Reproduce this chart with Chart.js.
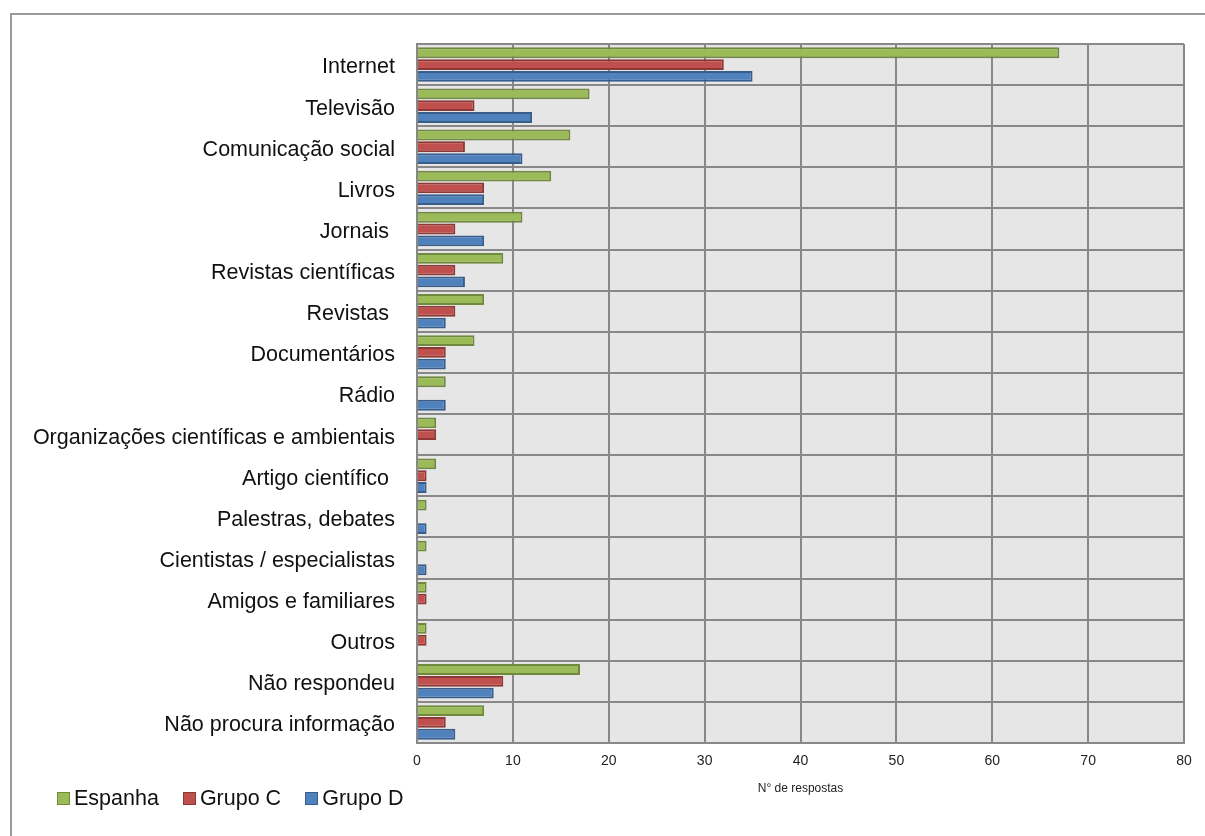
<!DOCTYPE html>
<html>
<head>
<meta charset="utf-8">
<script src="https://cdn.jsdelivr.net/npm/chart.js@4.4.1/dist/chart.umd.min.js"></script>
<style>
  html, body { margin: 0; padding: 0; background: #fff; overflow: hidden; }
  #wrap { position: relative; width: 1205px; height: 836px; }
  #frame { position: absolute; left: 10px; top: 13px; width: 1300px; height: 900px;
           border-top: 2px solid #9a9a9a; border-left: 2px solid #9a9a9a; }
  #chart { position: absolute; left: 0; top: 0; }
  #legend { position: absolute; left: 57px; top: 786px; display: flex;
            font-family: "Liberation Sans", sans-serif; font-size: 21.5px; color: #111; }
  #legend .item { display: flex; align-items: center; margin-right: 24px; }
  #legend .box { width: 13px; height: 13px; margin-right: 4px; box-sizing: border-box; border: 1.5px solid; }
</style>
</head>
<body>
<div id="wrap">
  <div id="frame"></div>
  <canvas id="chart" width="1205" height="836"></canvas>
  <div id="legend"></div>
</div>
<script>
// sources of information, top to bottom
const categories = [
  'Internet', 'Televisão', 'Comunicação social', 'Livros', 'Jornais ',
  'Revistas científicas', 'Revistas ', 'Documentários', 'Rádio',
  'Organizações científicas e ambientais', 'Artigo científico ',
  'Palestras, debates', 'Cientistas / especialistas', 'Amigos e familiares',
  'Outros', 'Não respondeu', 'Não procura informação'
];
const espanha = [67, 18, 16, 14, 11, 9, 7, 6, 3, 2, 2, 1, 1, 1, 1, 17, 7];
const grupoC  = [32, 6, 5, 7, 4, 4, 4, 3, 0, 2, 1, 0, 0, 1, 1, 9, 3];
const grupoD  = [35, 12, 11, 7, 7, 5, 3, 3, 3, 0, 1, 1, 1, 0, 0, 8, 4];
const xTicks = [0, 10, 20, 30, 40, 50, 60, 70, 80];

const series = [
  { label: 'Espanha', data: espanha, fill: '#9bbb59', line: '#71893f' },
  { label: 'Grupo C', data: grupoC,  fill: '#c0504d', line: '#8c3836' },
  { label: 'Grupo D', data: grupoD,  fill: '#4f81bd', line: '#385d8a' }
];

// grey plot background
const plotBg = {
  id: 'plotBg',
  beforeDraw(chart) {
    const a = chart.chartArea, ctx = chart.ctx;
    ctx.save();
    ctx.fillStyle = '#e6e6e6';
    ctx.fillRect(a.left, a.top, a.right - a.left, a.bottom - a.top);
    ctx.restore();
  }
};

const labelFont = { family: '"Liberation Sans", sans-serif', size: 21.5 };
const smallFont = { family: '"Liberation Sans", sans-serif', size: 14 };

new Chart(document.getElementById('chart'), {
  type: 'bar',
  data: {
    labels: categories,
    datasets: series.map(s => ({
      label: s.label,
      data: s.data,
      backgroundColor: s.fill,
      borderColor: s.line,
      borderWidth: 2,
      categoryPercentage: 0.86,
      barPercentage: 0.92
    }))
  },
  options: {
    indexAxis: 'y',
    responsive: false,
    animation: false,
    layout: { padding: { top: 44, right: 21, bottom: 0, left: 0 } },
    plugins: { legend: { display: false }, tooltip: { enabled: false } },
    scales: {
      y: {
        afterFit(scale) { scale.width = 417; },
        grid: { color: '#888', lineWidth: 2, drawTicks: false },
        border: { color: '#888', width: 2 },
        ticks: { color: '#111', font: labelFont, padding: 22, labelOffset: 3, autoSkip: false }
      },
      x: {
        min: 0, max: 80,
        afterFit(scale) { scale.height = 93; },
        afterBuildTicks(scale) { scale.ticks = xTicks.map(v => ({ value: v })); },
        grid: { color: '#888', lineWidth: 2, drawTicks: false },
        border: { color: '#888', width: 2 },
        ticks: { color: '#222', font: smallFont, padding: 10 },
        title: {
          display: true, text: 'N° de respostas', color: '#222',
          font: { family: '"Liberation Sans", sans-serif', size: 12 },
          padding: { top: 0, bottom: 40 }
        }
      }
    }
  },
  plugins: [plotBg]
});

// legend row under the axis labels
const legend = document.getElementById('legend');
series.forEach(s => {
  const item = document.createElement('div');
  item.className = 'item';
  const box = document.createElement('span');
  box.className = 'box';
  box.style.background = s.fill;
  box.style.borderColor = s.line;
  const txt = document.createElement('span');
  txt.textContent = s.label;
  item.appendChild(box);
  item.appendChild(txt);
  legend.appendChild(item);
});
</script>
</body>
</html>
